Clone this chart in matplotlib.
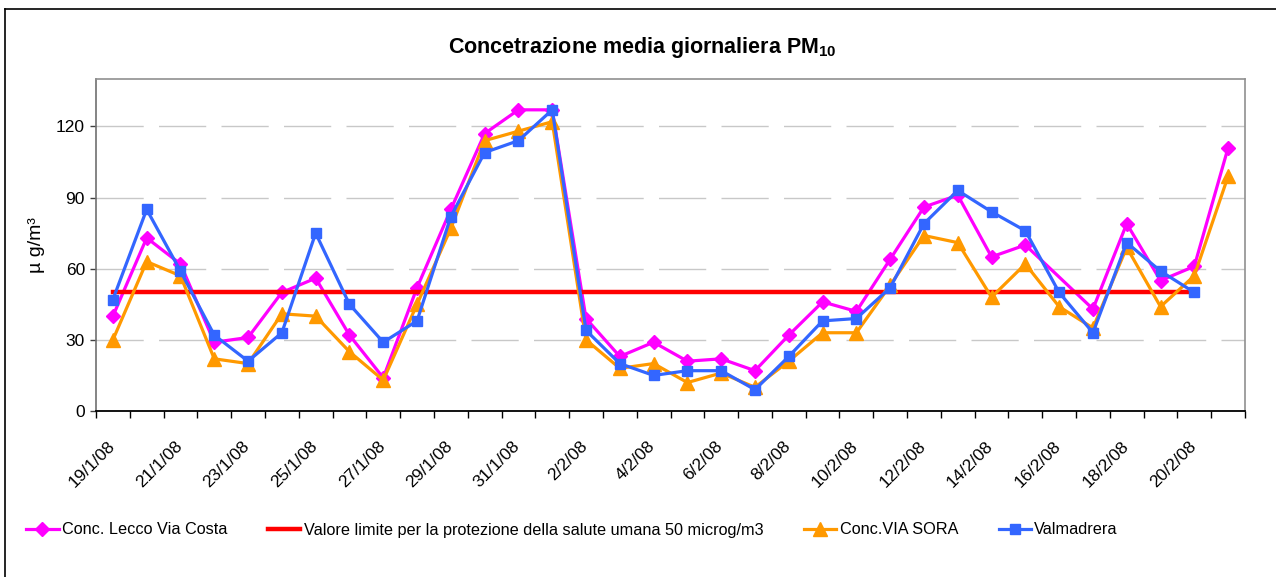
import numpy as np
import matplotlib
matplotlib.use("Agg")
import matplotlib.pyplot as plt
from matplotlib.lines import Line2D
from matplotlib.transforms import ScaledTranslation

plt.rcParams['font.family'] = ['Liberation Sans', 'DejaVu Sans']
plt.rcParams['mathtext.fontset'] = 'custom'
plt.rcParams['mathtext.rm'] = 'Liberation Sans'
plt.rcParams['mathtext.bf'] = 'Liberation Sans:bold'

dates = ["19/1/08", "20/1/08", "21/1/08", "22/1/08", "23/1/08", "24/1/08", "25/1/08",
         "26/1/08", "27/1/08", "28/1/08", "29/1/08", "30/1/08", "31/1/08", "1/2/08",
         "2/2/08", "3/2/08", "4/2/08", "5/2/08", "6/2/08", "7/2/08", "8/2/08", "9/2/08",
         "10/2/08", "11/2/08", "12/2/08", "13/2/08", "14/2/08", "15/2/08", "16/2/08",
         "17/2/08", "18/2/08", "19/2/08", "20/2/08", "21/2/08"]

lecco = [40, 73, 62, 29, 31, 50, 56, 32, 14, 52, 85, 117, 127, 127,
         39, 23, 29, 21, 22, 17, 32, 46, 42, 64, 86, 91, 65, 70, np.nan,
         43, 79, 55, 61, 111]
limite = [50] * 33 + [np.nan]
sora = [30, 63, 57, 22, 20, 41, 40, 25, 13, 45, 77, 114, 118, 122,
        30, 18, 20, 12, 16, 10, 21, 33, 33, 53, 74, 71, 48, 62, 44,
        35, 69, 44, 57, 99]
valmadrera = [47, 85, 59, 32, 21, 33, 75, 45, 29, 38, 82, 109, 114, 127,
              34, 20, 15, 17, 17, 9, 23, 38, 39, 52, 79, 93, 84, 76, 50,
              33, 71, 59, 50, np.nan]

series_labels = ["Conc. Lecco Via Costa",
                 "Valore limite per la protezione della salute umana 50 microg/m3",
                 "Conc.VIA SORA", "Valmadrera"]

W, H = 1276, 577
fig = plt.figure(figsize=(W / 100, H / 100), dpi=100)
ax = fig.add_axes([96 / W, 1 - 411 / H, (1245 - 96) / W, (411 - 79) / H])

x = np.arange(len(dates))

def plot_series(vals, **kw):
    v = np.array(vals, dtype=float)
    m = ~np.isnan(v)
    return ax.plot(x[m], v[m], **kw)

plot_series(lecco, color='#FF00FF', lw=2.3, marker='D', ms=7, mew=1,
            mec='#FF00FF', mfc='#FF00FF', label=series_labels[0], zorder=3)
plot_series(limite, color='#FF0000', lw=3.2, label=series_labels[1], zorder=3.1)
plot_series(sora, color='#FF9900', lw=2.3, marker='^', ms=10, mew=1,
            mec='#FF9900', mfc='#FF9900', label=series_labels[2], zorder=3.2)
plot_series(valmadrera, color='#3366FF', lw=2.3, marker='s', ms=7, mew=1,
            mec='#3366FF', mfc='#3366FF', label=series_labels[3], zorder=3.3)

ax.set_xlim(-0.5, len(dates) - 0.5)
ax.set_ylim(0, 140)
ax.set_yticks([0, 30, 60, 90, 120])
ax.yaxis.grid(True, color='#C8C8C8', lw=1.0, linestyle=(0, (34, 11)))
ax.set_axisbelow(True)

ax.set_xticks(np.arange(-0.5, len(dates), 1.0))
ax.set_xticklabels([])
ax.set_xticks(x[::2], [dates[i] for i in range(0, len(dates), 2)], minor=True)
ax.tick_params(axis='x', which='major', length=5, width=1, color='black', direction='out')
ax.tick_params(axis='x', which='minor', length=0, pad=20, labelsize=12.5)
shift = ScaledTranslation(-6 / 100, 0, fig.dpi_scale_trans)
for lab in ax.get_xticklabels(minor=True):
    lab.set_rotation(45)
    lab.set_ha('right')
    lab.set_va('top')
    lab.set_rotation_mode('anchor')
    lab.set_transform(lab.get_transform() + shift)
ax.tick_params(axis='y', length=4, width=1, color='#404040', labelsize=12.5, pad=4)

for s in ['top', 'right']:
    ax.spines[s].set_color('#909090')
    ax.spines[s].set_linewidth(1.2)
ax.spines['left'].set_color('#707070')
ax.spines['left'].set_linewidth(1.2)
ax.spines['bottom'].set_color('black')
ax.spines['bottom'].set_linewidth(1.3)

ax.set_ylabel("µ g/m³", fontsize=14, labelpad=8)

fig.text(642 / W, 1 - 48 / H, r"Concetrazione media giornaliera PM$_\mathbf{10}$",
         ha='center', va='center', fontsize=15.5, fontweight='bold')

leg = fig.legend(loc='center left', bbox_to_anchor=(26 / W, 1 - 530 / H),
                 ncol=4, frameon=False, fontsize=11.7, handlelength=2.0,
                 handletextpad=0.2, columnspacing=2.5, borderpad=0,
                 borderaxespad=0)

# outer frame lines (top and left)
fig.add_artist(Line2D([5 / W, 1.0], [1 - 9 / H, 1 - 9 / H], color='black', lw=1.2,
                      transform=fig.transFigure))
fig.add_artist(Line2D([5 / W, 5 / W], [0, 1 - 9 / H], color='black', lw=1.2,
                      transform=fig.transFigure))

fig.savefig("out.png", dpi=100)
